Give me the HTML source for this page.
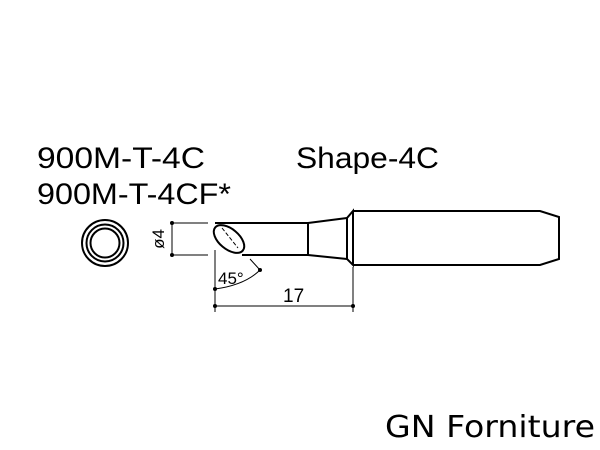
<!DOCTYPE html>
<html><head><style>
body{margin:0;background:#fff;width:600px;height:450px;overflow:hidden}
svg{display:block}
text{font-family:"Liberation Sans",sans-serif;fill:#000}
</style></head><body>
<svg width="600" height="450" viewBox="0 0 600 450">
<text x="37" y="168" font-size="30" textLength="168" lengthAdjust="spacingAndGlyphs">900M-T-4C</text>
<text x="37" y="204" font-size="30" textLength="194" lengthAdjust="spacingAndGlyphs">900M-T-4CF*</text>
<text x="296" y="168" font-size="30" textLength="143" lengthAdjust="spacingAndGlyphs">Shape-4C</text>
<text x="385" y="437" font-size="30" style="font-family:'DejaVu Sans',sans-serif" textLength="210" lengthAdjust="spacingAndGlyphs">GN Forniture</text>
<g fill="none" stroke="#000" stroke-width="2">
<circle cx="105" cy="243" r="23"/>
<circle cx="105" cy="243" r="18.5"/>
<circle cx="105" cy="243" r="14.5"/>
<path d="M215 223 H308 V255 H242"/>
<ellipse cx="229" cy="239" rx="18" ry="10" transform="rotate(40 229 239)"/>
<path d="M308 223 L347 218 M308 255 L347 259"/>
<path d="M347 218 L353 211 L353 265 L347 259 Z"/>
<path d="M353 211 H540 L559 217 V259 L540 265 H353"/>
</g>
<g fill="none" stroke="#000" stroke-width="1">
<path d="M172 223 V255 M172 223 H208 M172 255 H208"/>
<path d="M215 250 V312 M353 267 V312 M215 306 H353"/>
<path d="M215 289 Q245 285 260 270 M250 259 L260 270"/>
<line x1="222" y1="228" x2="238" y2="248" stroke-dasharray="4,2"/>
</g>
<g fill="#000">
<circle cx="172" cy="223" r="2"/><circle cx="172" cy="255" r="2"/>
<circle cx="215" cy="306" r="2"/><circle cx="353" cy="306" r="2"/>
<circle cx="215" cy="289" r="2"/><circle cx="260" cy="270" r="2"/>
</g>
<text x="0" y="0" font-size="17" text-anchor="middle" transform="translate(164 239) rotate(-90)">ø4</text>
<text x="218" y="284" font-size="17">45°</text>
<text x="283" y="302" font-size="19">17</text>
</svg>
</body></html>
